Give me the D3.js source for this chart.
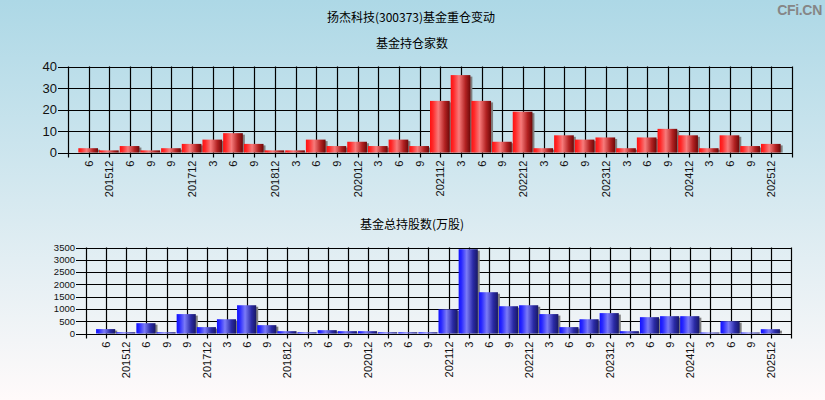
<!DOCTYPE html>
<html><head><meta charset="utf-8">
<script src="https://cdn.jsdelivr.net/npm/d3@7"></script>
<style>html,body{margin:0;padding:0;overflow:hidden;}svg{display:block;}</style>
</head><body>
<script>
const categories = ["6","201512","6","9","9","201712","3","6","9","201812","3","6","9","202012","3","6","9","202112","3","6","9","202212","3","6","9","202312","3","6","9","202412","3","6","9","202512"];
const fundCounts = [2,1,3,1,2,4,6,9,4,1,1,6,3,5,3,6,3,24,36,24,5,19,2,8,6,7,2,7,11,8,2,8,3,4];
const shareTotals = [180,50,420,50,790,260,580,1150,340,95,50,136,95,95,50,50,50,980,3430,1680,1110,1150,790,260,580,830,95,665,705,705,40,500,40,176];
const topTicks = [0,10,20,30,40];
const bottomTicks = [0,500,1000,1500,2000,2500,3000,3500];
const mainTitle = "扬杰科技(300373)基金重仓变动";
const topTitle = "基金持仓家数";
const bottomTitle = "基金总持股数(万股)";

const W = 825, H = 400;
const svg = d3.select("body").append("svg").attr("width", W).attr("height", H);
const defs = svg.append("defs");
const bg = defs.append("linearGradient").attr("id","bg").attr("x1",0).attr("y1",0).attr("x2",0).attr("y2",1);
bg.append("stop").attr("offset",0).attr("stop-color","#add8e6");
bg.append("stop").attr("offset",1).attr("stop-color","#fffafa");
function barGrad(id, stops){
  const g = defs.append("linearGradient").attr("id",id).attr("x1",0).attr("y1",0).attr("x2",1).attr("y2",0);
  stops.forEach(s=>g.append("stop").attr("offset",s[0]).attr("stop-color",s[1]));
}
barGrad("red", [[0,"#ff1010"],[0.15,"#ff2a2a"],[0.42,"#f77b7b"],[0.75,"#b32222"],[1,"#6e0808"]]);
barGrad("blue", [[0,"#1010ff"],[0.15,"#2a2aff"],[0.42,"#7b7bf7"],[0.75,"#2a2aa6"],[1,"#181866"]]);

svg.append("rect").attr("width",W).attr("height",H).attr("fill","url(#bg)");

const cjk = "'Noto Sans CJK SC','Noto Sans',sans-serif";
const latin = "'Liberation Sans',Arial,sans-serif";
svg.append("text").attr("x",411).attr("y",22).attr("text-anchor","middle").attr("font-family",cjk).attr("font-size",12).attr("fill","#000").text(mainTitle);
svg.append("text").attr("x",412).attr("y",48).attr("text-anchor","middle").attr("font-family",cjk).attr("font-size",12).attr("fill","#000").text(topTitle);
svg.append("text").attr("x",412).attr("y",229).attr("text-anchor","middle").attr("font-family",cjk).attr("font-size",12).attr("fill","#000").text(bottomTitle);
svg.append("text").attr("x",822).attr("y",15).attr("text-anchor","end").attr("font-family",latin).attr("font-weight","bold").attr("font-size",14).attr("letter-spacing","-0.3").attr("fill","#868686").text("CFi.CN");

function panel(opts){
  const {left,right,y0,y1,max,ticks,values,grad,yFont,yLabelGap} = opts;
  const n = categories.length;
  const x = d3.scaleLinear().domain([0,n+1]).range([left,right]);
  const y = d3.scaleLinear().domain([0,max]).range([y0,y1]);
  const g = svg.append("g");
  // grid
  g.selectAll(".vg").data(d3.range(0,n+2)).join("line")
    .attr("x1",d=>Math.round(x(d))+0.5).attr("x2",d=>Math.round(x(d))+0.5)
    .attr("y1",y1).attr("y2",y0+5).attr("stroke","#000").attr("stroke-width",1.2);
  g.selectAll(".hg").data(ticks).join("line")
    .attr("x1",left-10).attr("x2",right+0.5)
    .attr("y1",d=>Math.round(y(d))+0.5).attr("y2",d=>Math.round(y(d))+0.5)
    .attr("stroke","#000").attr("stroke-width",1.2);
  // bars
  const bw = x(1)-x(0);
  const bars = g.append("g");
  values.forEach((v,i)=>{
    const cx = x(i+1);
    const top = y(v), h = y0 - y(v);
    bars.append("rect").attr("x",cx-bw/2+2).attr("y",top+1.5).attr("width",bw-1).attr("height",Math.max(0,h-1.5)).attr("fill","#7f7f7f");
    bars.append("rect").attr("x",cx-bw/2).attr("y",top).attr("width",bw-1).attr("height",h).attr("fill",`url(#${grad})`);
  });
  // y labels
  g.selectAll(".yl").data(ticks).join("text")
    .attr("x",left-yLabelGap).attr("y",d=>y(d)).attr("dy","0.36em")
    .attr("text-anchor","end").attr("font-family",latin).attr("font-size",yFont).attr("fill","#111")
    .text(d=>d);
  // x labels
  g.selectAll(".xl").data(categories).join("text")
    .attr("transform",(d,i)=>`translate(${x(i+1)+4},${y0+8}) rotate(-90)`)
    .attr("text-anchor","end").attr("font-family",latin).attr("font-size",11).attr("fill","#111")
    .text(d=>d);
}

panel({left:68,right:792,y0:152.5,y1:66.5,max:40,ticks:topTicks,values:fundCounts,grad:"red",yFont:13,yLabelGap:11});
panel({left:86,right:791,y0:333.5,y1:247.5,max:3500,ticks:bottomTicks,values:shareTotals,grad:"blue",yFont:9.5,yLabelGap:11});
</script>
</body></html>
